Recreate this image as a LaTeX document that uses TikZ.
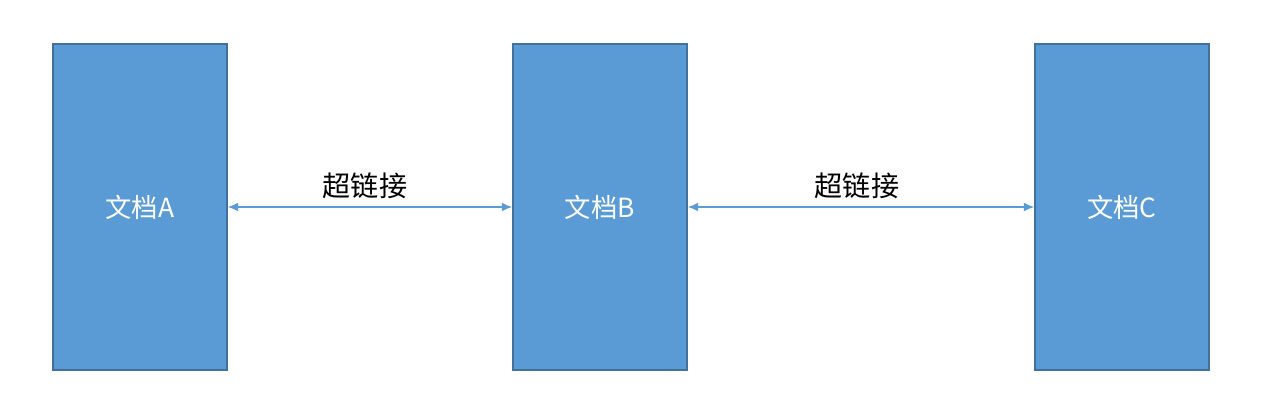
\documentclass[tikz,border=0pt]{standalone}
\usepackage{fontspec}
\setmainfont{Noto Sans CJK SC}
\usetikzlibrary{arrows.meta}
\definecolor{docfill}{HTML}{5B9BD5}
\definecolor{docline}{HTML}{41719C}
\tikzset{
  docbox/.style={draw=docline,fill=docfill,line width=0.8pt,minimum width=3.48cm,minimum height=6.52cm,text=white,font=\fontsize{15pt}{17pt}\selectfont},
  linkarrow/.style={draw=docfill,line width=0.8pt,{Latex[length=6pt,width=5pt]}-{Latex[length=6pt,width=5pt]}},
  linklabel/.style={font=\fontsize{16pt}{18pt}\selectfont,above=1pt}
}
\begin{document}
\begin{tikzpicture}[x=0.02cm,y=-0.02cm]
    \useasboundingbox (0,0) rectangle (1275,415);
    \node[docbox] (docA) at (140,207)  {文档A};
    \node[docbox] (docB) at (600,207)  {文档B};
    \node[docbox] (docC) at (1122,207) {文档C};
    \draw[linkarrow] (docA.east) -- node[linklabel,xshift=-0.1cm] (linkAB) {超链接} (docB.west);
    \draw[linkarrow] (docB.east) -- node[linklabel,xshift=-0.08cm] (linkBC) {超链接} (docC.west);
  \end{tikzpicture}
\end{document}
